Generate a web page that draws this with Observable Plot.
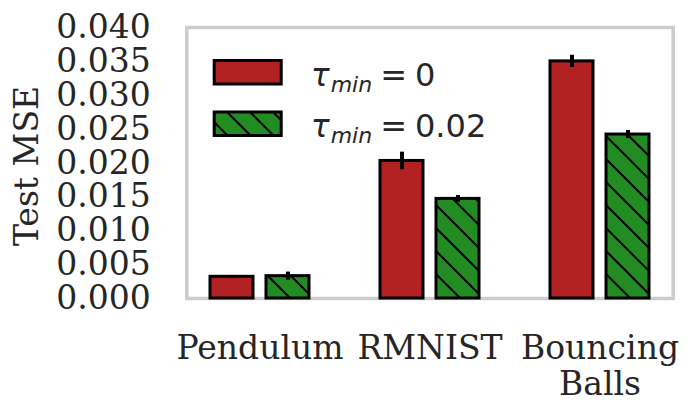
<!DOCTYPE html>
<html><head><meta charset="utf-8">
<script src="https://cdn.jsdelivr.net/npm/d3@7"></script>
<script src="https://cdn.jsdelivr.net/npm/@observablehq/plot@0.6"></script>
<style>body{margin:0;background:#fff}</style>
</head><body><div id="wrap"></div>
<script>
const datasets = ["Pendulum", "RMNIST", "Bouncing Balls"];
const settings = ["tau0", "tau002"];
const settingTail = ["0", "0.02"];
const meanTau0 = [0.0032, 0.0203, 0.0350];
const errTau0 = [0.0002, 0.0013, 0.0009];
const meanTau002 = [0.0033, 0.0147, 0.0242];
const errTau002 = [0.0006, 0.0005, 0.0006];
const yTicks = [0, 0.005, 0.010, 0.015, 0.020, 0.025, 0.030, 0.035, 0.040];
const yLabel = "Test MSE";

const rows = datasets.flatMap((d, i) => [
  {dataset: d, setting: settings[0], value: meanTau0[i], err: errTau0[i]},
  {dataset: d, setting: settings[1], value: meanTau002[i], err: errTau002[i]}
]);

const RED = "#b22222", GREEN = "#228b22", INK = "#262626";
const OUTER = 13.7; // fx outer padding in px, so the frame spans the whole plot area
const FS = 33;

const svg = Plot.plot({
  width: 694, height: 415,
  marginLeft: 185, marginRight: 20, marginTop: 27, marginBottom: 117,
  style: {fontFamily: "'DejaVu Serif', serif", fontSize: FS + "px", color: INK, background: "#fff"},
  fx: {domain: datasets, paddingInner: 0.3, paddingOuter: 0.08, label: null},
  x: {domain: settings, paddingInner: 0.23, paddingOuter: 0.17, axis: null},
  y: {domain: [0, 0.04], label: null},
  marks: [
    Plot.frame({stroke: "#cccccc", strokeWidth: 3.5, facet: "super", insetLeft: -OUTER, insetRight: -OUTER}),
    Plot.barY(rows.filter(d => d.setting === settings[0]), {fx: "dataset", x: "setting", y: "value", fill: RED, stroke: "black", strokeWidth: 3}),
    Plot.barY(rows.filter(d => d.setting === settings[1]), {fx: "dataset", x: "setting", y: "value", fill: "url(#hatch)", stroke: "black", strokeWidth: 3}),
    Plot.ruleX(rows, {fx: "dataset", x: "setting", y1: d => d.value - d.err, y2: d => d.value + d.err, stroke: "black", strokeWidth: 4}),
    Plot.axisY({ticks: yTicks, tickSize: 0, tickPadding: 36 + OUTER, tickFormat: d3.format(".3f"), label: null, fontSize: FS, fill: INK}),
    Plot.axisFx({anchor: "bottom", tickSize: 0, tickPadding: 34, tickFormat: d => d.replace(" ", "\n"), lineHeight: 1.11, label: null, fontSize: FS, fill: INK}),
    Plot.text([yLabel], {frameAnchor: "left", textAnchor: "middle", dx: -(OUTER + 159), dy: 3, rotate: -90, text: d => d, fontSize: FS, fill: INK, facet: "super"})
  ]
});

const root = d3.select(svg);
const defs = root.insert("defs", ":first-child");
const pat = defs.append("pattern").attr("id", "hatch").attr("patternUnits", "userSpaceOnUse")
  .attr("width", 23).attr("height", 23);
pat.append("rect").attr("width", 23).attr("height", 23).attr("fill", GREEN);
pat.append("path").attr("d", "M0,0L23,23M-6,17L6,29M17,-6L29,6").attr("stroke", "black").attr("stroke-width", 2);

// legend (inside plot, upper left)
const lg = root.append("g").attr("class", "legend").attr("text-anchor", "start");
const swFill = [RED, "url(#hatch)"];
settings.forEach((s, i) => {
  const y0 = 60.5 + i * 51.5;
  lg.append("rect").attr("x", 214.2).attr("y", y0).attr("width", 67).attr("height", 23.5)
    .attr("fill", swFill[i]).attr("stroke", "black").attr("stroke-width", 3);
  const t = lg.append("text").attr("x", 311).attr("y", y0 + 25).attr("text-anchor", "start")
    .attr("font-family", "'DejaVu Sans', sans-serif").attr("font-size", 32).attr("fill", INK);
  t.append("tspan").attr("font-style", "italic").attr("font-size", 31).text("τ");
  t.append("tspan").attr("font-style", "italic").attr("font-size", 22).attr("dy", 6).attr("dx", 1).text("min");
  t.append("tspan").attr("dy", -6).attr("dx", 8).text("=");
  t.append("tspan").attr("dx", 8).text(settingTail[i]);
});

document.getElementById("wrap").appendChild(svg);
</script>
</body></html>
